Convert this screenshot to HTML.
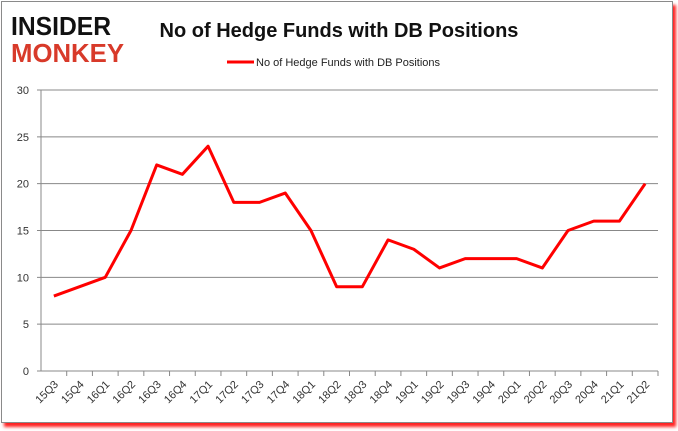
<!DOCTYPE html>
<html><head><meta charset="utf-8"><style>
body{margin:0;background:#fff;width:678px;height:431px;overflow:hidden;font-family:"Liberation Sans",sans-serif}
#frame{position:absolute;left:1px;top:1px;width:670px;height:420px;border:1px solid #8a8a8a;box-shadow:3px 4px 3px #f22;background:#fff}
</style></head><body>
<div id="frame"></div>
<svg id="c" width="678" height="431" style="position:absolute;left:0;top:0">
<g>
<text x="11" y="35" font-size="26" font-weight="bold" fill="#111" font-family="Liberation Sans,sans-serif" textLength="100" lengthAdjust="spacingAndGlyphs">INSIDER</text>
<text x="11" y="62" font-size="26" font-weight="bold" fill="#d83a2a" font-family="Liberation Sans,sans-serif" textLength="113" lengthAdjust="spacingAndGlyphs">MONKEY</text>
</g>
<text x="339" y="37" font-size="20" font-weight="bold" text-anchor="middle" fill="#111">No of Hedge Funds with DB Positions</text>
<g>
<line x1="227" y1="62" x2="254" y2="62" stroke="#f00" stroke-width="3"/>
<text x="256" y="66" font-size="11" fill="#222">No of Hedge Funds with DB Positions</text>
</g>
</svg>
<script>
const categories=["15Q3","15Q4","16Q1","16Q2","16Q3","16Q4","17Q1","17Q2","17Q3","17Q4","18Q1","18Q2","18Q3","18Q4","19Q1","19Q2","19Q3","19Q4","20Q1","20Q2","20Q3","20Q4","21Q1","21Q2"];
const values=[8,9,10,15,22,21,24,18,18,19,15,9,9,14,13,11,12,12,12,11,15,16,16,20];
const yTicks=[0,5,10,15,20,25,30];
const svg=document.getElementById('c');const NS='http://www.w3.org/2000/svg';
const L=41,R=658,T=90,B=371,yMax=30;
const step=(R-L)/categories.length;
const x=i=>L+step*(i+0.5);
const y=v=>B-(B-T)*v/yMax;
function mk(t,a){const e=document.createElementNS(NS,t);for(const k in a)e.setAttribute(k,a[k]);svg.appendChild(e);return e;}
yTicks.forEach(v=>{
 const g=mk('line',{x1:L-4,x2:R,y1:y(v),y2:y(v),stroke:'#888','stroke-width':1});
 
 
 const t=mk('text',{x:L-12,y:y(v)+4,'font-size':11,'text-anchor':'end',fill:'#333'});t.textContent=v;
 
 
});
const ax=mk('line',{x1:L,x2:L,y1:T,y2:B,stroke:'#888'});


categories.forEach((c,i)=>{
 const tk=mk('line',{x1:L+step*(i+1),x2:L+step*(i+1),y1:B,y2:B+5,stroke:'#888'});
 
 
 const t=mk('text',{x:x(i)+5,y:B+14,'font-size':11,'text-anchor':'end',fill:'#333',transform:`rotate(-45 ${x(i)+5} ${B+14})`});t.textContent=c;
 
 
});
const p=mk('polyline',{points:values.map((v,i)=>x(i)+','+y(v)).join(' '),fill:'none',stroke:'#f00','stroke-width':3,'stroke-linejoin':'round'});


</script>
</body></html>
